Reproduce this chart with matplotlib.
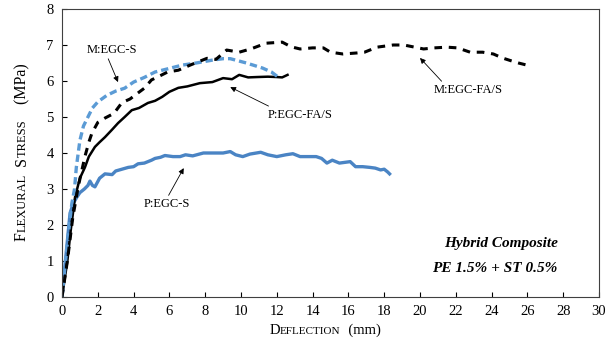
import matplotlib
matplotlib.use('Agg')
import matplotlib.pyplot as plt

plt.rcParams['font.family'] = ['Liberation Serif', 'DejaVu Serif']

# P:EGC-S (blue solid)
pegc_s_x = [0, 0.15, 0.27, 0.45, 0.63, 0.8, 1.0, 1.25, 1.45, 1.56, 1.7, 1.84, 2.1, 2.4, 2.8, 3.0,
            3.35, 3.7, 4.0, 4.25, 4.6, 5.0, 5.2, 5.5, 5.75, 6.2, 6.6, 6.9, 7.3, 7.9, 8.5, 9.0, 9.4,
            9.7, 10.1, 10.5, 11.1, 11.5, 12.0, 12.5, 12.9, 13.3, 13.8, 14.2, 14.5, 14.8, 15.1, 15.5,
            16.1, 16.4, 16.8, 17.2, 17.5, 17.8, 18.0, 18.2, 18.3]
pegc_s_y = [0, 0.8, 1.4, 2.33, 2.6, 2.75, 2.9, 3.0, 3.1, 3.22, 3.1, 3.06, 3.3, 3.42, 3.4, 3.5,
            3.55, 3.6, 3.62, 3.7, 3.72, 3.8, 3.85, 3.88, 3.93, 3.9, 3.9, 3.95, 3.92, 4.0, 4.0, 4.0, 4.04,
            3.95, 3.9, 3.97, 4.02, 3.95, 3.9, 3.95, 3.98, 3.9, 3.9, 3.9, 3.85, 3.72, 3.8, 3.72,
            3.76, 3.62, 3.62, 3.6, 3.58, 3.53, 3.55, 3.47, 3.42]

# M:EGC-S (blue dashed)
megc_s_x = [0, 0.3, 0.55, 0.7, 0.8, 1.0, 1.2, 1.45, 1.7, 2.0, 2.5, 3.0, 3.5, 4.0, 4.6, 5.2, 6.0,
            6.7, 7.5, 8.4, 9.0, 9.4, 10.3, 11.2, 11.7, 12.1]
megc_s_y = [0, 1.5, 2.6, 3.0, 3.6, 4.35, 4.75, 5.0, 5.25, 5.42, 5.6, 5.72, 5.8, 5.97, 6.1, 6.25, 6.35,
            6.44, 6.5, 6.58, 6.62, 6.62, 6.5, 6.36, 6.25, 6.1]

# M:EGC-FA/S (black dashed)
megc_fas_x = [0, 0.3, 0.6, 0.9, 1.1, 1.28, 1.5, 1.67, 2.0, 2.4, 2.9, 3.35, 3.8, 4.25, 4.6, 5.0, 5.5,
              5.9, 6.5, 7.2, 8.1, 8.6, 9.2, 9.9, 10.6, 11.4, 12.3, 12.8, 13.3, 14.0, 14.6, 15.0, 15.7,
              16.5, 16.9, 17.6, 18.5, 19.1, 19.6, 20.2, 20.8, 21.5, 22.1, 22.8, 23.5, 24.1, 24.6,
              25.1, 25.5, 25.9]
megc_fas_y = [0, 1.0, 2.2, 3.05, 3.5, 3.9, 4.3, 4.55, 4.85, 4.97, 5.1, 5.4, 5.5, 5.67, 5.8, 6.03, 6.15,
              6.25, 6.3, 6.45, 6.63, 6.6, 6.86, 6.8, 6.9, 7.05, 7.08, 6.95, 6.89, 6.92, 6.92, 6.8, 6.75,
              6.78, 6.8, 6.94, 7.0, 7.0, 6.95, 6.89, 6.92, 6.94, 6.92, 6.8, 6.8, 6.75, 6.64,
              6.56, 6.5, 6.45]

# P:EGC-FA/S (black solid)
pegc_fas_x = [0, 0.3, 0.5, 0.73, 1.0, 1.28, 1.5, 1.84, 2.1, 2.4, 2.8, 3.13, 3.5, 3.9, 4.3, 4.8, 5.2,
              5.6, 6.0, 6.5, 7.0, 7.7, 8.4, 9.0, 9.5, 9.9, 10.4, 10.9, 11.5, 12.0, 12.3, 12.6]
pegc_fas_y = [0, 1.0, 1.9, 2.78, 3.3, 3.6, 3.9, 4.17, 4.3, 4.44, 4.65, 4.83, 5.0, 5.19, 5.25, 5.39, 5.45,
              5.56, 5.7, 5.81, 5.85, 5.94, 5.97, 6.08, 6.05, 6.17, 6.1, 6.11, 6.12, 6.11, 6.1, 6.17]

x_ticks = list(range(0, 31, 2))
y_ticks = list(range(0, 9))

fig = plt.figure(figsize=(6.14, 3.41), dpi=100)
ax = fig.add_axes([62 / 614, 1 - 297 / 341, (599 - 62) / 614, (297 - 9) / 341])

ax.plot(pegc_s_x, pegc_s_y, color='#4a84c4', lw=2.4, solid_joinstyle='round')
ax.plot(pegc_fas_x, pegc_fas_y, color='black', lw=1.8)
ax.plot(megc_s_x, megc_s_y, color='#5b9bd5', lw=2.4, dashes=(2.2, 1.2))
ax.plot(megc_fas_x, megc_fas_y, color='black', lw=2.2, dashes=(2.5, 2.2))

ax.set_xlim(0, 30)
ax.set_ylim(0, 8)
ax.set_xticks(x_ticks)
ax.set_yticks(y_ticks)
ax.tick_params(direction='in', length=3.5, labelsize=10.5, top=False, right=False, pad=6)
for sp in ax.spines.values():
    sp.set_linewidth(0.8)
    sp.set_color('#404040')

arrow = dict(arrowstyle='-|>', color='black', lw=0.6, mutation_scale=8, shrinkA=0, shrinkB=0)
ax.annotate('M:EGC-S', xy=(3.13, 5.97), xytext=(2.8, 6.86), fontsize=9, ha='center', va='center',
            arrowprops=dict(arrow, relpos=(0.4, 0)))
ax.annotate('P:EGC-FA/S', xy=(9.4, 5.83), xytext=(13.3, 5.06), fontsize=9, ha='center', va='center',
            arrowprops=dict(arrow, relpos=(0.1, 1)))
ax.annotate('M:EGC-FA/S', xy=(20.0, 6.64), xytext=(22.7, 5.75), fontsize=9, ha='center', va='center',
            arrowprops=dict(arrow, relpos=(0.15, 1)))
ax.annotate('P:EGC-S', xy=(6.8, 3.58), xytext=(5.87, 2.58), fontsize=9, ha='center', va='center',
            arrowprops=dict(arrow, relpos=(0.5, 1)))

ax.text(24.5, 1.5, 'Hybrid Composite', fontsize=11, fontweight='bold', fontstyle='italic',
        ha='center', va='center')
ax.text(24.2, 0.8, 'PE 1.5% + ST 0.5%', fontsize=11, fontweight='bold', fontstyle='italic',
        ha='center', va='center')


def small_caps(parts, cx, cy, rotation=0):
    # parts: (text, size); centred on (cx, cy) in pixels
    r = fig.canvas.get_renderer()
    texts = []
    total = 0
    for s, size in parts:
        t = fig.text(0, 0, s, fontsize=size, rotation=rotation, rotation_mode='anchor',
                     ha='left', va='baseline')
        bb = t.get_window_extent(r)
        n = bb.height if rotation else bb.width
        texts.append((t, n))
        total += n
    pos = -total / 2
    for t, n in texts:
        if rotation:
            t.set_position((cx / 614, (cy + pos) / 341))
        else:
            t.set_position(((cx + pos) / 614, cy / 341))
        pos += n


big, small = 10.5, 8
small_caps([('D', big), ('EFLECTION', small), ('\u2002(mm)', big)], 325, 341 - 334)
small_caps([('F', 11.5), ('LEXURAL', 9), ('\u2002', 11.5), ('S', 11.5), ('TRESS', 9),
            ('\u2002\u2002(MPa)', 11.5)], 26, 341 - 152, rotation=90)

fig.savefig('out.png', dpi=100)
